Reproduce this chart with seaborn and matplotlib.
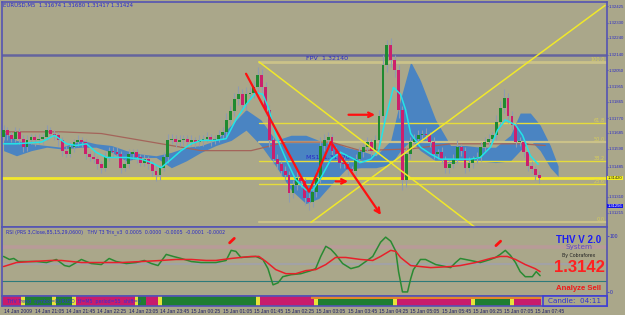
import matplotlib
matplotlib.use("Agg")
import matplotlib.pyplot as plt
from matplotlib.patches import Rectangle
import seaborn as sns

# ---- data (EURUSD M5, 14-15 Jan 2009) ----
first_open = 1.3166
closes = [
    1.3170, 1.3167, 1.3165, 1.3169, 1.3165, 1.3160, 1.3164, 1.3166, 1.3164, 1.3165,
    1.3166, 1.3170, 1.3168, 1.3167, 1.3164, 1.3158, 1.3156, 1.3160, 1.3163, 1.3164,
    1.3163, 1.3156, 1.3154, 1.3153, 1.3150, 1.3148, 1.3154, 1.3158, 1.3157, 1.3156,
    1.3148, 1.3150, 1.3156, 1.3157, 1.3154, 1.3151, 1.3153, 1.3150, 1.3146, 1.3144,
    1.3148, 1.3154, 1.3164, 1.3165, 1.3163, 1.3164, 1.3165, 1.3163, 1.3164, 1.3163,
    1.3164, 1.3165, 1.3166, 1.3164, 1.3165, 1.3167, 1.3169, 1.3176, 1.3181, 1.3188,
    1.3191, 1.3185, 1.3191, 1.3192, 1.3195, 1.3202, 1.3195, 1.3182, 1.3164, 1.3153,
    1.3150, 1.3146, 1.3144, 1.3133, 1.3138, 1.3142, 1.3140, 1.3130, 1.3128, 1.3134,
    1.3142, 1.3161, 1.3164, 1.3166, 1.3158, 1.3156, 1.3151, 1.3150, 1.3147, 1.3146,
    1.3153, 1.3157, 1.3160, 1.3163, 1.3158, 1.3164, 1.3178, 1.3208, 1.3220, 1.3211,
    1.3205, 1.3182, 1.3141, 1.3156, 1.3163, 1.3165, 1.3167, 1.3168, 1.3167, 1.3163,
    1.3156, 1.3157, 1.3153, 1.3148, 1.3150, 1.3153, 1.3160, 1.3158, 1.3148, 1.3151,
    1.3153, 1.3154, 1.3160, 1.3163, 1.3165, 1.3167, 1.3175, 1.3183, 1.3189, 1.3178,
    1.3173, 1.3163, 1.3163, 1.3157, 1.3149, 1.3147, 1.3144, 1.3142,
]
upper_wick = [  # pips
    3, 2, 2, 3, 2, 2, 3, 2, 2, 3,
    2, 3, 2, 2, 2, 2, 3, 3, 2, 3,
    2, 2, 2, 3, 2, 2, 3, 2, 2, 3,
    2, 3, 3, 2, 2, 2, 3, 2, 2, 3,
    2, 3, 4, 3, 2, 3, 2, 2, 3, 2,
    3, 2, 3, 2, 2, 3, 3, 4, 3, 4,
    5, 3, 4, 3, 4, 5, 4, 3, 3, 2,
    3, 2, 3, 2, 3, 4, 2, 2, 3, 3,
    4, 5, 4, 3, 2, 2, 2, 3, 2, 2,
    3, 3, 2, 3, 2, 3, 4, 6, 3, 4,
    3, 3, 2, 4, 3, 3, 3, 2, 3, 2,
    3, 2, 3, 2, 2, 3, 4, 2, 2, 3,
    2, 3, 3, 3, 3, 2, 4, 4, 5, 3,
    3, 2, 3, 2, 2, 3, 2, 2,
]
lower_wick = [
    2, 3, 2, 2, 3, 3, 2, 2, 3, 2,
    3, 2, 2, 3, 3, 3, 2, 2, 3, 2,
    3, 3, 2, 2, 3, 3, 2, 2, 3, 2,
    3, 2, 2, 3, 3, 2, 2, 3, 3, 4,
    3, 2, 3, 2, 3, 2, 3, 2, 2, 3,
    2, 3, 2, 3, 2, 2, 2, 3, 3, 3,
    3, 4, 3, 3, 3, 4, 3, 4, 4, 3,
    3, 3, 3, 5, 3, 3, 3, 4, 5, 3,
    3, 3, 3, 2, 3, 3, 3, 2, 3, 3,
    2, 2, 3, 2, 3, 2, 3, 3, 4, 4,
    4, 5, 6, 4, 3, 2, 2, 3, 2, 3,
    3, 3, 2, 3, 3, 2, 2, 3, 3, 2,
    3, 2, 2, 3, 2, 3, 3, 3, 3, 4,
    3, 3, 2, 3, 3, 2, 3, 3,
]

# THV cloud (two smoothed lines, shifted forward)
cloud_idx = [0, 3.3, 7.1, 11, 14.8, 19.9, 23.7, 27.6, 31.4, 35.2, 39, 42.9, 46.7, 50.5,
             54.3, 58.2, 62, 65.8, 69.6, 73.5, 77.3, 80.6, 83.7, 87.5, 91.3, 95.2, 99,
             101.5, 104.1, 106.6, 110.5, 114.3, 118.1, 121.9, 125.8, 129.6, 132.1,
             134.7, 137.2, 139.8, 141.8]
cloud_top = [1.3169, 1.3164, 1.3162, 1.3161, 1.3160, 1.3164, 1.3162, 1.3161, 1.3158,
             1.3156, 1.3155, 1.3157, 1.3160, 1.3161, 1.3164, 1.3173, 1.3182, 1.3176,
             1.3164, 1.3167, 1.3167, 1.3164, 1.3164, 1.3160, 1.3158, 1.3155, 1.3164,
             1.3188, 1.3210, 1.3199, 1.3176, 1.3161, 1.3161, 1.3160, 1.3160, 1.3167,
             1.3180, 1.3180, 1.3173, 1.3161, 1.3149]
cloud_bot = [1.3158, 1.3155, 1.3158, 1.3160, 1.3159, 1.3160, 1.3160, 1.3157, 1.3152,
             1.3154, 1.3154, 1.3148, 1.3152, 1.3157, 1.3161, 1.3164, 1.3170, 1.3161,
             1.3149, 1.3135, 1.3127, 1.3130, 1.3138, 1.3147, 1.3148, 1.3148, 1.3150,
             1.3158, 1.3164, 1.3158, 1.3152, 1.3151, 1.3152, 1.3152, 1.3151, 1.3152,
             1.3158, 1.3164, 1.3158, 1.3148, 1.3143]

fast_idx = [0, 3.3, 9.7, 13, 16.1, 18.6, 21.2, 23.7, 26.3, 31.4, 35.2, 37.8, 40.3, 42.9,
            45.4, 48, 50.5, 54.3, 56.9, 59.4, 62, 64.5, 66.3, 67.9, 69.6, 72.2, 74.7,
            77.3, 79.1, 81.1, 83.7, 86.2, 88.8, 91.3, 93.9, 95.9, 97.7, 99.7, 101.5,
            102.8, 104.1, 106.6, 109.2, 111.7, 114.3, 116.8, 119.4, 121.9, 124.5,
            126.3, 128.3, 130.9, 132.7, 134.7, 136.7]
fast_ma = [1.3162, 1.3162, 1.3163, 1.3167, 1.3162, 1.3161, 1.3162, 1.3157, 1.3154, 1.3154,
           1.3153, 1.3151, 1.3148, 1.3153, 1.3158, 1.3162, 1.3164, 1.3164, 1.3165, 1.3176,
           1.3185, 1.3192, 1.3191, 1.3182, 1.3167, 1.3153, 1.3141, 1.3135, 1.3135, 1.3142,
           1.3153, 1.3157, 1.3154, 1.3151, 1.3153, 1.3158, 1.3177, 1.3195, 1.3191, 1.3182,
           1.3168, 1.3160, 1.3156, 1.3153, 1.3153, 1.3153, 1.3153, 1.3154, 1.3160, 1.3170,
           1.3176, 1.3173, 1.3167, 1.3155, 1.3150]
slow_idx = [0, 14.8, 25, 37.8, 50.5, 63.3, 72.2, 83.7, 91.3, 104.1, 114.3, 132.1, 138.5]
slow_ma = [1.3169, 1.3169, 1.3168, 1.3163, 1.3158, 1.3158, 1.3163, 1.3163, 1.3158,
           1.3159, 1.3162, 1.3162, 1.3161]

fpv = 1.3214
support = 1.3142
fib_high, fib_low, fib_start = 1.3210, 1.3116, 65.3
fib_levels = [0.0, 23.6, 38.2, 50.0, 61.8, 100.0]
line_a_idx, line_a = [65.3, 121.2], [1.3210, 1.3112]
line_b_idx, line_b = [78.6, 153.8], [1.3116, 1.3243]
zig_idx, zig = [62.0, 78.1, 83.7, 96.9], [1.3203, 1.3134, 1.3163, 1.3119]
arrows = [((87.5, 1.3179), (95.7, 1.3179)), ((84.2, 1.3140), (88.8, 1.3140))]
price_ticks = [1.32425, 1.32330, 1.32240, 1.32140, 1.32050, 1.31955, 1.31865, 1.31770,
               1.31685, 1.31590, 1.31485, 1.31310, 1.31215]

# oscillator panel (0..100)
osc_g_idx = [0, 1.5, 2.6, 3.8, 5.9, 8.4, 11, 13.5, 15.6, 16.8, 18.6, 19.9, 22.4, 25, 27,
             28.8, 31.4, 33.9, 36, 37.8, 39.5, 41.6, 43.4, 45.4, 48, 50.5, 54.3, 56.9,
             58.2, 59.4, 60.7, 64.5, 66.3, 67.6, 68.9, 70.2, 71.4, 73.5, 76, 78.6, 79.8,
             81.1, 82.4, 83.7, 84.9, 86.7, 88.8, 90.8, 92.6, 94.4, 96.4, 97.7, 99, 100.3,
             101, 102, 103.3, 104.1, 104.8, 106.6, 107.9, 110.5, 114.3, 115.6, 116.8,
             119.4, 121.9, 124.5, 125.8, 127, 128.3, 129.6, 130.9, 132.1, 133.4, 135.2,
             136.2, 137.2]
osc_g = [63.6, 58.2, 60, 54.5, 54.5, 54.5, 52.7, 58.2, 47.3, 45.5, 52.7, 58.2, 50.9, 49.1,
         60, 54.5, 50.9, 52.7, 56.4, 50.9, 47.3, 67.3, 63.6, 60, 54.5, 52.7, 52.7, 56.4,
         74.5, 72.7, 61.8, 63.6, 58.2, 41.8, 12.7, 16.4, 27.3, 30.9, 32.7, 38.2, 41.8,
         63.6, 81.8, 76.4, 67.3, 50.9, 41.8, 45.5, 54.5, 63.6, 89.1, 98.2, 90.9, 72.7,
         36.4, 0, 0, 23.6, 40, 58.2, 58.2, 49.1, 43.6, 52.7, 60, 56.4, 52.7, 58.2, 61.8,
         67.3, 74.5, 65.5, 52.7, 36.4, 27.3, 27.3, 36.4, 29.1]
osc_r_idx = [0, 3.3, 7.1, 12.2, 14.8, 19.9, 25, 30.1, 35.2, 40.3, 44.1, 48, 51.8, 54.3,
             58.2, 60.7, 63.3, 65.3, 67.1, 69.6, 72.2, 74.7, 77.3, 79.8, 82.4, 84.9, 87.5,
             91.3, 94.4, 96.4, 99, 100.3, 101.5, 102.8, 104.1, 109.2, 114.3, 116.8, 120.7,
             124.5, 127, 128.8, 130.9, 133.4, 135.9, 137.2]
osc_r = [45.5, 52.7, 54.5, 56.4, 56.4, 52.7, 52.7, 52.7, 54.5, 56.4, 58.2, 58.2, 56.4, 56.4,
         60, 61.8, 63.6, 63.6, 54.5, 40, 32.7, 32.7, 38.2, 40, 49.1, 61.8, 61.8, 58.2,
         56.4, 63.6, 74.5, 72.7, 61.8, 54.5, 47.3, 43.6, 45.5, 47.3, 52.7, 60, 63.6, 63.6,
         58.2, 49.1, 41.8, 36.4]
osc_levels = [80, 50, 20]
signal_idx, signal_val = [58.4, 126.5], [92, 87]

time_labels = ["14 Jan 2009", "14 Jan 21:05", "14 Jan 21:45", "14 Jan 22:25",
               "14 Jan 23:05", "14 Jan 23:45", "15 Jan 00:25", "15 Jan 01:05",
               "15 Jan 01:45", "15 Jan 02:25", "15 Jan 03:05", "15 Jan 03:45",
               "15 Jan 04:25", "15 Jan 05:05", "15 Jan 05:45", "15 Jan 06:25",
               "15 Jan 07:05", "15 Jan 07:45"]
strip_runs = [("m", 5), ("y", 1), ("g", 7), ("y", 1), ("g", 4), ("y", 1), ("m", 15),
              ("y", 1), ("g", 2), ("m", 3), ("y", 1), ("g", 24), ("y", 1), ("m", 14),
              ("y", 1), ("g", 19), ("y", 1), ("m", 19), ("y", 1), ("g", 9), ("y", 1),
              ("m", 7)]

# ---- style ----
BG = "#aaa78a"
BORDER = "#5454b4"
BLUE_TXT = "#2a2ac8"
BULL, BEAR = "#1f8a30", "#cc1f6c"
NARROW = "Liberation Sans"
W, H = 625, 315

sns.set_style("white")
plt.rcParams["font.family"] = ["DejaVu Sans"]

def fx(px):
    return px / W

def fy(py):
    return 1 - py / H

fig = plt.figure(figsize=(6.25, 3.15), dpi=100, facecolor=BG)
ax = fig.add_axes([fx(2), fy(227), (607 - 2) / W, (227 - 2) / H])
osc = fig.add_axes([fx(2), fy(296), (607 - 2) / W, (296 - 227) / H], sharex=ax)
strip = fig.add_axes([fx(2), fy(306), (607 - 2) / W, (306 - 296) / H], sharex=ax)

for a in (ax, osc, strip):
    a.set_facecolor(BG)
    for s in a.spines.values():
        s.set_color(BORDER)
        s.set_linewidth(1.2)

xmax = 154.3
ax.set_xlim(-0.4, xmax)
ax.set_ylim(1.31133, 1.32450)

# cloud
ax.fill_between(cloud_idx, cloud_bot, cloud_top, color="#4a84c2", lw=0, zorder=1)

# horizontal lines
ax.axhline(fpv, color="#64649e", lw=1.8, zorder=2)
ax.axhline(support, color="#f2e82a", lw=2, zorder=2)
fib_style = {0.0: ("#cbc289", 1.6), 23.6: ("#e6dc3a", 1.0), 38.2: ("#e6dc3a", 1.0),
             50.0: ("#cbc289", 1.6), 61.8: ("#e6dc3a", 1.0), 100.0: ("#cbc289", 2.0)}
for lev in fib_levels:
    p = fib_low + (fib_high - fib_low) * lev / 100
    col, lw = fib_style[lev]
    ax.plot([fib_start, xmax], [p, p], color=col, lw=lw, zorder=2)
    ax.text(xmax - 0.6, p, f"{lev:.1f}", color="#d8ce5a", fontsize=3.6,
            ha="right", va="bottom", zorder=7)

# candles
opens = [first_open] + closes[:-1]
for i, (o, c) in enumerate(zip(opens, closes)):
    hi = max(o, c) + upper_wick[i] / 10000
    lo = min(o, c) - lower_wick[i] / 10000
    ax.vlines(i, lo, hi, color="#8e9bb0", lw=0.8, zorder=3)
    col = BULL if c >= o else BEAR
    ax.bar(i, max(abs(c - o), 0.00004), bottom=min(o, c), width=0.72, color=col,
           lw=0, zorder=4)

# moving averages
sns.lineplot(x=fast_idx, y=fast_ma, ax=ax, color="#22e4e8", lw=1.1, sort=False,
             estimator=None, legend=False, zorder=5)
sns.lineplot(x=slow_idx, y=slow_ma, ax=ax, color="#a4645a", lw=0.9, sort=False,
             estimator=None, legend=False, zorder=2)

# trend lines
ax.plot(line_a_idx, line_a, color="#f0e82a", lw=1.1, zorder=6)
ax.plot(line_b_idx, line_b, color="#f0e82a", lw=1.1, zorder=6)
ax.plot(zig_idx[:3], zig[:3], color="#ff1010", lw=1.6, zorder=7)
ax.annotate("", xy=(zig_idx[3], zig[3]), xytext=(zig_idx[2], zig[2]),
            arrowprops=dict(arrowstyle="->", color="#ff1010", lw=1.6,
                            mutation_scale=9), zorder=7)
for start, end in arrows:
    ax.annotate("", xy=end, xytext=start,
                arrowprops=dict(arrowstyle="->", color="#ff1010", lw=1.6,
                                mutation_scale=8), zorder=7)

ax.text(77.3, 1.3212, "FPV  1.32140", color=BLUE_TXT, fontsize=4.6, va="center")
ax.text(77.3, 1.3154, "MS1  1.31470", color=BLUE_TXT, fontsize=4.6, va="center")

# price axis
ax.yaxis.tick_right()
ax.set_yticks(price_ticks)
ax.set_yticklabels([f"{v:.5f}" for v in price_ticks], family=NARROW)
ax.tick_params(axis="y", labelsize=3.1, labelcolor=BLUE_TXT, color=BORDER, length=1,
               pad=0.3)
ax.tick_params(axis="x", bottom=False, labelbottom=False)
ax.text(1.0012, support, "1.31420", transform=ax.get_yaxis_transform(), fontsize=3.0,
        family=NARROW, va="center", ha="left", color="#202020",
        bbox=dict(boxstyle="square,pad=0.1", fc="#f4f020", ec="none"))
ax.text(1.0012, 1.31256, "1.31256", transform=ax.get_yaxis_transform(), fontsize=3.0,
        family=NARROW, va="center", ha="left", color="white",
        bbox=dict(boxstyle="square,pad=0.1", fc="#1414e6", ec="none"))

# oscillator panel
osc.set_ylim(-7.3, 116.4)
osc.axhline(osc_levels[0], color="#b89b98", lw=2.6, zorder=1)
osc.axhline(osc_levels[1], color="#a2a2a6", lw=1.5, zorder=1)
osc.axhline(osc_levels[2], color="#2d7a7a", lw=0.8, zorder=1)
sns.lineplot(x=osc_r_idx, y=osc_r, ax=osc, color="#e8202a", lw=1.1, sort=False,
             estimator=None, legend=False, zorder=3)
sns.lineplot(x=osc_g_idx, y=osc_g, ax=osc, color="#2a8a32", lw=1.1, sort=False,
             estimator=None, legend=False, zorder=2)
for sx, sv in zip(signal_idx, signal_val):
    osc.plot([sx - 0.6, sx + 0.6], [sv - 4, sv + 4], color="#ff1010", lw=2, zorder=4)
osc.yaxis.tick_right()
osc.set_yticks([100, 0])
osc.set_yticklabels(["100", "0"], family=NARROW)
osc.tick_params(axis="y", labelsize=3.6, labelcolor=BLUE_TXT, color=BORDER, length=1.5,
                pad=0.5)
osc.tick_params(axis="x", bottom=False, labelbottom=False)
osc.set_ylabel("")
osc.text(0.5, 108, "RSI (PRS 3,Close,85,15,29,0600)   THV T3 Trix_v3  0.0005  0.0000"
         "  -0.0005  -0.0001  -0.0002", color=BLUE_TXT, fontsize=3.4, va="center")

# trend colour strip
strip_colors = {"m": "#c81c6c", "g": "#1f7e32", "y": "#e8e23a"}
pos = 0
for code, n in strip_runs:
    strip.bar(range(pos, pos + n), 1, width=1.0, color=strip_colors[code], lw=0)
    pos += n
strip.bar(range(79, len(closes)), 0.28, bottom=0.72, width=1.0, color="#e4882a", lw=0)
strip.set_ylim(0, 1)
strip.set_yticks([])
strip.text(1, 0.45, "THV Trend  symbol=EURUSD  tf=M5  period=55  shift=0", color="#3030d8",
           fontsize=3.4, va="center")
strip.set_xticks(range(0, len(closes), 8))
strip.set_xticklabels(time_labels, fontsize=3.6, family=NARROW, color="#20206a",
                      ha="left")
strip.tick_params(axis="x", length=2, pad=0.5, color=BORDER)
strip.set_xlabel("")

# info box on the right
fig.patches.append(Rectangle((fx(543), fy(306)), fx(607) - fx(543), fy(296) - fy(306),
                             transform=fig.transFigure, fc=BG, ec="#4040d4", lw=1.2,
                             zorder=5))
fig.text(fx(575), fy(301), "Candle:  04:11", color="#3232d0", fontsize=5.2,
         ha="center", va="center", zorder=6)
fig.text(fx(579), fy(240), "THV V 2.0", color="#1c1cf4", fontsize=7,
         fontweight="bold", family=NARROW, ha="center", va="center")
fig.text(fx(579), fy(247.5), "System", color="#5a4ec4", fontsize=5.2,
         ha="center", va="center")
fig.text(fx(579), fy(256), "By Cobraforex", color="#222222", fontsize=3.4,
         ha="center", va="center")
fig.text(fx(579), fy(268), f"{closes[-1]:.4f}", color="#ff2020", fontsize=12,
         fontweight="bold", family=NARROW, ha="center", va="center")
fig.text(fx(579), fy(288), "Analyze Sell", color="#f01818", fontsize=5.6,
         fontweight="bold", family=NARROW, ha="center", va="center")

fig.text(fx(3), fy(5), "EURUSD,M5  1.31674 1.31680 1.31417 1.31424", color="#2a2ad0",
         fontsize=3.9, va="center")

fig.savefig("out.png", dpi=100, facecolor=BG)
